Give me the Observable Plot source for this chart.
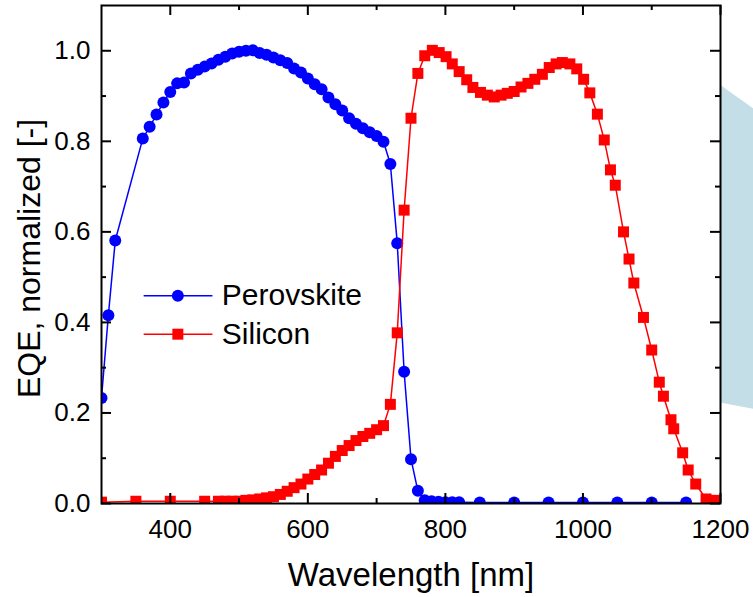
<!DOCTYPE html>
<html>
<head>
<meta charset="utf-8">
<script src="https://cdn.jsdelivr.net/npm/d3@7"></script>
<script src="https://cdn.jsdelivr.net/npm/@observablehq/plot@0.6"></script>
<style>
  html, body { margin: 0; padding: 0; background: #fff; }
  #chart svg { display: block; }
</style>
</head>
<body>
<div id="chart"></div>
<script>
// ---------- data ----------
const seriesNames = ["Perovskite", "Silicon"];
const xLabel = "Wavelength [nm]";
const yLabel = "EQE, normalized [-]";

const perovskiteWavelength = [300, 310, 320, 360, 370, 380, 390, 400, 410, 420,
  430, 440, 450, 460, 470, 480, 490, 500, 510, 520,
  530, 540, 550, 560, 570, 580, 590, 600, 610, 620,
  630, 640, 650, 660, 670, 680, 690, 700, 710, 720,
  730, 740, 750, 760, 770, 780, 790, 800, 810, 820,
  850, 900, 950, 1000, 1050, 1100, 1150];
const perovskiteEQE = [0.233, 0.416, 0.581, 0.806, 0.832, 0.859, 0.886, 0.909, 0.928, 0.930,
  0.950, 0.958, 0.965, 0.972, 0.980, 0.987, 0.994, 0.998, 1.000, 1.001,
  0.995, 0.991, 0.985, 0.979, 0.973, 0.961, 0.952, 0.939, 0.926, 0.915,
  0.897, 0.882, 0.868, 0.851, 0.839, 0.829, 0.820, 0.812, 0.799, 0.750,
  0.575, 0.291, 0.098, 0.028, 0.007, 0.005, 0.004, 0.003, 0.003, 0.003,
  0.002, 0.002, 0.002, 0.002, 0.002, 0.002, 0.002];

const siliconWavelength = [300, 350, 400, 450, 470, 480, 490, 500, 510, 520,
  530, 540, 550, 560, 570, 580, 590, 600, 610, 620,
  630, 640, 650, 660, 670, 680, 690, 700, 710, 720,
  730, 740, 750, 760, 770, 781, 791, 801, 810, 820,
  831, 840, 851, 861, 871, 881, 890, 900, 910, 920,
  930, 941, 951, 961, 970, 981, 991, 1001, 1010, 1021,
  1031, 1040, 1047, 1059, 1067, 1074, 1088, 1100, 1111, 1117,
  1128, 1132, 1145, 1153, 1164, 1179, 1191];
const siliconEQE = [0.003, 0.005, 0.005, 0.005, 0.005, 0.005, 0.005, 0.005, 0.007, 0.008,
  0.010, 0.0125, 0.015, 0.020, 0.027, 0.035, 0.043, 0.054, 0.064, 0.074,
  0.089, 0.104, 0.117, 0.128, 0.139, 0.148, 0.155, 0.163, 0.172, 0.219,
  0.377, 0.648, 0.851, 0.950, 0.989, 1.001, 0.996, 0.987, 0.971, 0.954,
  0.936, 0.919, 0.908, 0.902, 0.898, 0.902, 0.906, 0.910, 0.920, 0.928,
  0.937, 0.948, 0.963, 0.971, 0.974, 0.971, 0.960, 0.937, 0.907, 0.860,
  0.803, 0.737, 0.703, 0.600, 0.540, 0.487, 0.411, 0.339, 0.268, 0.237,
  0.185, 0.165, 0.112, 0.074, 0.043, 0.010, 0.007];

const xMajorTicks = [400, 600, 800, 1000, 1200];
const xMinorTicks = [500, 700, 900, 1100];
const yMajorTicks = [0, 0.2, 0.4, 0.6, 0.8, 1.0];
const yMinorTicks = [0.1, 0.3, 0.5, 0.7, 0.9];

// light-blue decorative panel peeking in beyond the right edge (data units)
const panelX = [1200, 1248];
const panelTop = [0.924, 0.872];
const panelBottom = [0.222, 0.208];

// ---------- build ----------
const perov = perovskiteWavelength.map((x, i) => ({x, y: perovskiteEQE[i]}));
const sil = siliconWavelength.map((x, i) => ({x, y: siliconEQE[i]}));
const panel = panelX.map((x, i) => ({x, y1: panelBottom[i], y2: panelTop[i]}));

const BLUE = "#0000ff", RED = "#ff0000";
const W = 753, H = 597;
const mL = 101, mR = 33, mT = 5, mB = 94;
const fw = W - mL - mR, fh = H - mT - mB;

// legend placement (data units)
const leg = {x1: 362, x2: 462, xm: 411, xt: 475, y: [0.459, 0.374]};

const chart = Plot.plot({
  width: W, height: H,
  marginLeft: mL, marginRight: mR, marginTop: mT, marginBottom: mB,
  x: {domain: [300, 1200]},
  y: {domain: [0, 1.1]},
  style: {fontFamily: "'Liberation Sans', Arial, Helvetica, sans-serif", background: "#fff", color: "#000", overflow: "visible"},
  marks: [
    Plot.areaY(panel, {x: "x", y1: "y1", y2: "y2", fill: "#c3dee6", clip: false}),
    // data
    Plot.line(perov, {x: "x", y: "y", stroke: BLUE, strokeWidth: 1.5, clip: true}),
    Plot.dot(perov, {x: "x", y: "y", r: 6, fill: BLUE, stroke: "none", clip: true}),
    Plot.line(sil, {x: "x", y: "y", stroke: RED, strokeWidth: 1.5, clip: true}),
    Plot.dot(sil, {x: "x", y: "y", symbol: "square", r: 6.2, fill: RED, stroke: "none", clip: true}),
    // frame + inward ticks
    Plot.frame({stroke: "#000", strokeWidth: 2}),
    Plot.tickX(xMajorTicks, {x: d => d, insetTop: fh - 10, stroke: "#000", strokeWidth: 2}),
    Plot.tickX(xMajorTicks, {x: d => d, insetBottom: fh - 10, stroke: "#000", strokeWidth: 2}),
    Plot.tickX(xMinorTicks, {x: d => d, insetTop: fh - 5, stroke: "#000", strokeWidth: 2}),
    Plot.tickX(xMinorTicks, {x: d => d, insetBottom: fh - 5, stroke: "#000", strokeWidth: 2}),
    Plot.tickY(yMajorTicks, {y: d => d, insetRight: fw - 10, stroke: "#000", strokeWidth: 2}),
    Plot.tickY(yMajorTicks, {y: d => d, insetLeft: fw - 10, stroke: "#000", strokeWidth: 2}),
    Plot.tickY(yMinorTicks, {y: d => d, insetRight: fw - 5, stroke: "#000", strokeWidth: 2}),
    Plot.tickY(yMinorTicks, {y: d => d, insetLeft: fw - 5, stroke: "#000", strokeWidth: 2}),
    // tick labels
    Plot.axisX(xMajorTicks, {tickSize: 0, tickPadding: 16, fontSize: 26, tickFormat: d => String(d), label: null}),
    Plot.axisY(yMajorTicks, {tickSize: 0, tickPadding: 11, fontSize: 26, tickFormat: d3.format(".1f"), label: null}),
    // axis titles
    Plot.text([xLabel], {frameAnchor: "bottom", dy: 72, fontSize: 33, textAnchor: "middle", lineAnchor: "middle", fill: "#000"}),
    Plot.text([yLabel], {frameAnchor: "left", dx: -72, dy: 4, rotate: -90, fontSize: 32, textAnchor: "middle", lineAnchor: "middle", fill: "#000"}),
    // legend
    Plot.ruleY([leg.y[0]], {x1: leg.x1, x2: leg.x2, stroke: BLUE, strokeWidth: 1.5}),
    Plot.dot([0], {x: () => leg.xm, y: () => leg.y[0], r: 6, fill: BLUE, stroke: "none"}),
    Plot.text([seriesNames[0]], {x: () => leg.xt, y: () => leg.y[0], textAnchor: "start", fontSize: 30, fill: "#000"}),
    Plot.ruleY([leg.y[1]], {x1: leg.x1, x2: leg.x2, stroke: RED, strokeWidth: 1.5}),
    Plot.dot([0], {x: () => leg.xm, y: () => leg.y[1], symbol: "square", r: 6.2, fill: RED, stroke: "none"}),
    Plot.text([seriesNames[1]], {x: () => leg.xt, y: () => leg.y[1], textAnchor: "start", fontSize: 30, fill: "#000"})
  ]
});
document.getElementById("chart").appendChild(chart);
</script>
</body>
</html>
